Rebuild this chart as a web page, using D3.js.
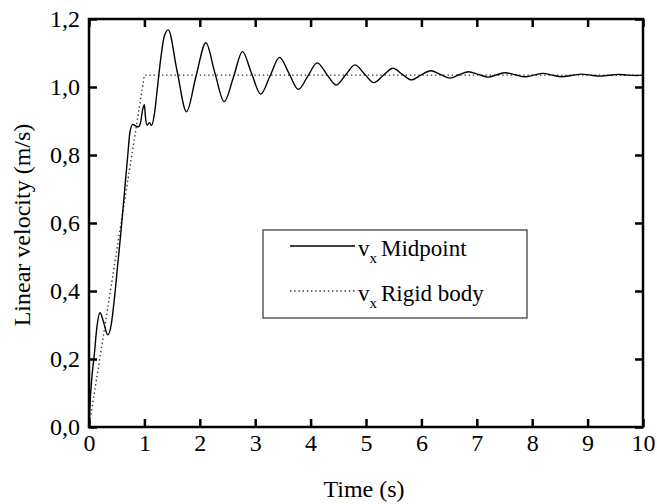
<!DOCTYPE html>
<html>
<head>
<meta charset="utf-8">
<script src="https://cdn.jsdelivr.net/npm/d3@7"></script>
<style>
  html, body { margin: 0; padding: 0; background: #fff; }
  svg { display: block; }
  text { font-family: "Liberation Serif", "Times New Roman", serif; fill: #000; }
</style>
</head>
<body>
<svg id="chart" width="657" height="504"></svg>
<script>
// ---- data ----
const xTicks = [0, 1, 2, 3, 4, 5, 6, 7, 8, 9, 10];
const yTicks = [0, 0.2, 0.4, 0.6, 0.8, 1.0, 1.2];
const yTickLabels = ["0,0", "0,2", "0,4", "0,6", "0,8", "1,0", "1,2"];

const midpointT = [0.00, 0.03, 0.06, 0.10, 0.14, 0.20, 0.26, 0.34, 0.40, 0.46, 0.52, 0.58, 0.64, 0.70, 0.74, 0.79, 0.85, 0.89, 0.93, 0.97, 1.00, 1.02, 1.05, 1.09, 1.13, 1.18, 1.23, 1.30, 1.36, 1.43,
  1.59, 1.76, 1.93, 2.11, 2.27, 2.44, 2.61, 2.77, 2.93, 3.10, 3.27, 3.44, 3.61, 3.78, 3.95, 4.12, 4.29, 4.46, 4.63, 4.80,
  4.97, 5.14, 5.31, 5.49, 5.65, 5.82, 5.99, 6.17, 6.34, 6.52, 6.68, 6.85, 7.03, 7.21, 7.36, 7.51, 7.69, 7.87, 8.03, 8.20,
  8.36, 8.53, 8.71, 8.89, 9.05, 9.22, 9.38, 9.55, 9.72, 9.88, 10.0];
const midpointV = [0.00, 0.10, 0.16, 0.22, 0.29, 0.336, 0.31, 0.271, 0.30, 0.38, 0.48, 0.58, 0.69, 0.80, 0.868, 0.89, 0.885, 0.883, 0.895, 0.935, 0.948, 0.91, 0.888, 0.895, 0.887, 0.92, 0.99, 1.09, 1.15, 1.168,
  1.047, 0.927, 1.03, 1.130, 1.043, 0.957, 1.03, 1.104, 1.042, 0.979, 1.033, 1.087, 1.04, 0.993, 1.032, 1.071, 1.038, 1.006, 1.035, 1.065,
  1.039, 1.013, 1.034, 1.055, 1.038, 1.021, 1.035, 1.048, 1.037, 1.026, 1.036, 1.045, 1.037, 1.029, 1.036, 1.042, 1.036, 1.030, 1.035, 1.040,
  1.035, 1.030, 1.034, 1.038, 1.035, 1.032, 1.0345, 1.037, 1.035, 1.034, 1.035];

const rigidT = [0, 1.0, 10.0];
const rigidV = [0, 1.035, 1.035];

const seriesNames = ["Midpoint", "Rigid body"];

// ---- layout ----
const svg = d3.select("#chart");
const mLeft = 89, mRight = 643, mTop = 19, mBottom = 427;

const x = d3.scaleLinear().domain([0, 10]).range([mLeft, mRight]);
const y = d3.scaleLinear().domain([0, 1.2]).range([mBottom, mTop]);

// frame
svg.append("rect")
  .attr("x", mLeft).attr("y", mTop)
  .attr("width", mRight - mLeft).attr("height", mBottom - mTop)
  .attr("fill", "none").attr("stroke", "#000").attr("stroke-width", 2.5);

// curves
const midData = midpointT.map((t, i) => [t, midpointV[i]]);
const rigidData = rigidT.map((t, i) => [t, rigidV[i]]);

const lineMid = d3.line().x(d => x(d[0])).y(d => y(d[1])).curve(d3.curveMonotoneX);
const lineRigid = d3.line().x(d => x(d[0])).y(d => y(d[1]));

svg.append("path").datum(rigidData)
  .attr("d", lineRigid)
  .attr("fill", "none").attr("stroke", "#333").attr("stroke-width", 1.4)
  .attr("stroke-dasharray", "1.4,2.8");

svg.append("path").datum(midData)
  .attr("d", lineMid)
  .attr("fill", "none").attr("stroke", "#000").attr("stroke-width", 1.4);

// axes (inward ticks)
const tickLen = 8;
const fmtY = d => yTickLabels[yTicks.indexOf(d)];

const axB = d3.axisBottom(x).tickValues(xTicks).tickSize(-tickLen).tickPadding(7).tickFormat(d3.format("d"));
const axT = d3.axisTop(x).tickValues(xTicks).tickSize(-tickLen).tickFormat("");
const axL = d3.axisLeft(y).tickValues(yTicks).tickSize(-tickLen).tickPadding(9).tickFormat(fmtY);
const axR = d3.axisRight(y).tickValues(yTicks).tickSize(-tickLen).tickFormat("");

function styleAxis(g) {
  g.select(".domain").remove();
  g.selectAll(".tick line").attr("stroke", "#000").attr("stroke-width", 2.5);
  g.selectAll(".tick text").style("font-family", "'Liberation Serif', serif").style("font-size", "24px").attr("fill", "#000");
}

svg.append("g").attr("transform", `translate(0,${mBottom})`).call(axB).call(styleAxis);
svg.append("g").attr("transform", `translate(0,${mTop})`).call(axT).call(styleAxis);
svg.append("g").attr("transform", `translate(${mLeft},0)`).call(axL).call(styleAxis);
svg.append("g").attr("transform", `translate(${mRight},0)`).call(axR).call(styleAxis);

// axis titles
svg.append("text")
  .attr("x", 364).attr("y", 497)
  .attr("text-anchor", "middle").style("font-size", "24px")
  .text("Time (s)");

svg.append("text")
  .attr("transform", `translate(30,225) rotate(-90)`)
  .attr("text-anchor", "middle").style("font-size", "24px")
  .text("Linear velocity (m/s)");

// legend
const lg = svg.append("g");
lg.append("rect")
  .attr("x", 263).attr("y", 230).attr("width", 264).attr("height", 88)
  .attr("fill", "#fff").attr("stroke", "#333").attr("stroke-width", 1.2);

const legendRows = [
  { name: seriesNames[0], y: 246, base: 256, dash: null, color: "#000" },
  { name: seriesNames[1], y: 291, base: 301, dash: "1.4,2.8", color: "#333" }
];
legendRows.forEach(r => {
  lg.append("line")
    .attr("x1", 290).attr("x2", 355).attr("y1", r.y).attr("y2", r.y)
    .attr("stroke", r.color).attr("stroke-width", 1.4)
    .attr("stroke-dasharray", r.dash);
  const t = lg.append("text").attr("x", 358).attr("y", r.base).style("font-size", "23px");
  t.append("tspan").text("v");
  t.append("tspan").attr("dy", 7).style("font-size", "15px").text("x");
  t.append("tspan").attr("dy", -7).attr("dx", 4).text(r.name);
});
</script>
</body>
</html>
